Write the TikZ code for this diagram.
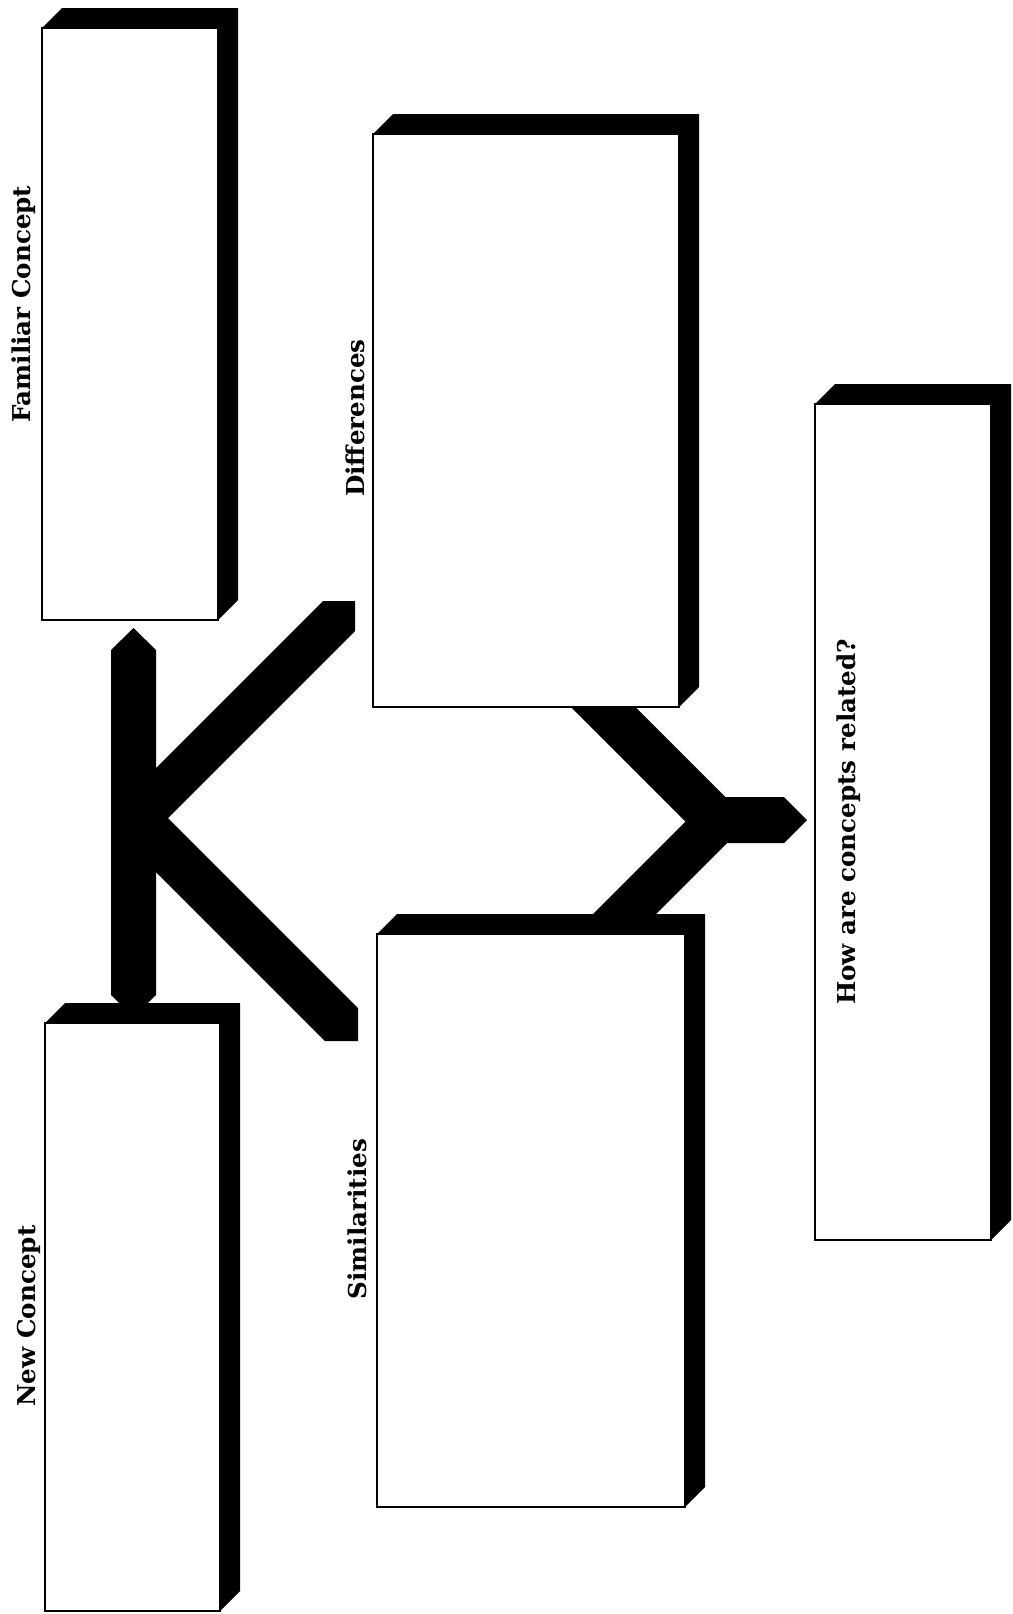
\documentclass[tikz,border=0pt]{standalone}
\usepackage{fontspec}
\setmainfont{DejaVu Serif}
\usepackage{tikz}
\usetikzlibrary{fit}

\begin{document}
\begin{tikzpicture}[x=0.02cm, y=-0.02cm,
    face/.style={draw, fill=white, line width=1.2pt, inner sep=0pt},
    lbl/.style={rotate=90, anchor=base, font=\bfseries\fontsize{14}{16}\selectfont}]
        \useasboundingbox (0,0) rectangle (1012,1614);

        % K: bar between the two concepts, arms toward the middle boxes
        \fill (133.5,628) -- (156,650) -- (156,768) -- (323,601) -- (355,601) -- (355,631)
              -- (168,818) -- (358,1008) -- (358,1041) -- (325,1041) -- (156,872)
              -- (156,995) -- (133.5,1017) -- (111,995) -- (111,650) -- cycle;

        % Y: differences and similarities joined, pointing to the question
        \fill (554,690) -- (685.5,821.5) -- (577,930) -- (640,930) -- (727,843) -- (784,843)
              -- (807,820) -- (784,797) -- (725.5,797) -- (618.5,690) -- cycle;

        % boxes with a solid shadow behind them
        \foreach \n/\xa/\ya/\xb/\yb in {fam/42/28/218/620, new/45/1023/220/1611,
                diff/373/134/679/707, sim/377/934/685/1507, how/815/404/991/1240} {
            \fill (\xa,\ya) -- (\xa+20,\ya-20) -- (\xb+20,\ya-20) -- (\xb+20,\yb-20)
                  -- (\xb,\yb) -- (\xa,\yb) -- cycle;
            \node[face, fit={(\xa,\ya) (\xb,\yb)}] (\n) {};
        }

        % labels
        \node[lbl] (famlbl) at (31,304) {Familiar Concept};
        \node[lbl] (newlbl) at (35,1316) {New Concept};
        \node[lbl] (difflbl) at (364,418) {Differences};
        \node[lbl] (simlbl) at (366,1219) {Similarities};
        \node[lbl] (howlbl) at (855,822) {How are concepts related?};

    \end{tikzpicture}
\end{document}
